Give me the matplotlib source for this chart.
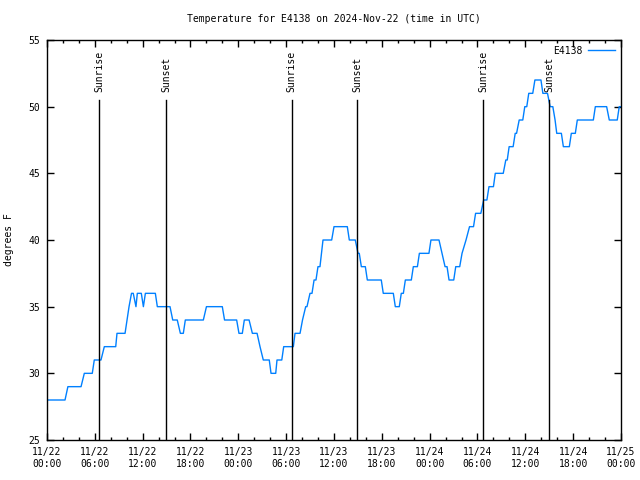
import pandas as pd
import matplotlib
matplotlib.use("Agg")
import matplotlib.pyplot as plt
import matplotlib.dates as mdates

# Temperature levels (deg F) with start / end of each level, hours after 11/22 00:00 UTC
level_temp = [28, 29, 30, 31, 32, 33, 34, 35, 36, 35, 36, 35, 36, 35, 34, 33, 34, 35, 34, 33,
              34, 33, 32, 31, 30, 31, 32, 33, 34, 35, 36, 37, 38, 39, 40, 41, 40, 39, 38, 37,
              36, 35, 36, 37, 38, 39, 40, 39, 38, 37, 38, 39, 40, 41, 42, 43, 44, 45, 46, 47,
              48, 49, 50, 51, 52, 51, 50, 49, 48, 47, 48, 49, 50, 49, 50]
level_start = [0.0, 2.62, 4.68, 5.93, 7.19, 8.78, 10.04, 10.29, 10.60, 11.16, 11.33, 12.09, 12.34,
               13.84, 15.77, 16.73, 17.35, 20.0, 22.27, 24.08, 24.75, 25.76, 26.72, 27.13, 28.1,
               28.85, 29.69, 31.11, 32.05, 32.45, 32.99, 33.5, 33.99, 34.43, 34.62, 36.0, 37.92,
               39.01, 39.43, 40.18, 42.18, 43.69, 44.44, 44.95, 45.95, 46.71, 48.16, 49.55, 49.93,
               50.43, 51.27, 52.06, 52.56, 53.0, 53.76, 54.77, 55.44, 56.23, 57.55, 57.97, 58.73,
               59.23, 59.93, 60.43, 61.2, 62.2, 63.11, 63.73, 63.94, 64.77, 65.77, 66.52, 68.78,
               70.53, 71.78]
level_end = [2.26, 4.27, 5.68, 6.77, 8.62, 9.79, 10.04, 10.29, 10.82, 11.16, 11.83, 12.09, 13.59,
             15.43, 16.34, 17.10, 19.61, 21.99, 23.79, 24.50, 25.35, 26.35, 26.72, 27.88, 28.69,
             29.45, 30.9, 31.74, 32.05, 32.61, 33.24, 33.74, 34.24, 34.43, 35.71, 37.67, 38.67,
             39.17, 39.93, 41.93, 43.44, 44.19, 44.7, 45.7, 46.46, 47.91, 49.17, 49.55, 50.18,
             51.02, 51.77, 52.06, 52.56, 53.5, 54.42, 55.18, 56.0, 57.23, 57.73, 58.47, 58.9,
             59.68, 60.18, 60.93, 61.96, 62.78, 63.45, 63.73, 64.52, 65.52, 66.27, 68.53, 70.2,
             71.53, 72.0]

sunrise_hours = [6.56, 30.69, 54.73]
sunset_hours = [14.93, 38.92, 63.0]

start = pd.Timestamp("2024-11-22 00:00")

hours = []
temps = []
for t, s, e in zip(level_temp, level_start, level_end):
    hours += [s, e]
    temps += [t, t]
times = start + pd.to_timedelta(hours, unit="h")

font = "DejaVu Sans Mono"
fs = 7

fig = plt.figure(figsize=(6.4, 4.8), dpi=100)
ax = fig.add_axes([47 / 640, 40 / 480, 574 / 640, 400 / 480])

ax.plot(times, temps, color="#0080ff", lw=1.0, label="E4138")

# sunrise / sunset markers
for h in sunrise_hours:
    x = start + pd.Timedelta(hours=h)
    ax.plot([x, x], [25, 50.5], color="black", lw=1.0)
    ax.text(x, 51.1, "Sunrise", rotation=90, ha="center", va="bottom",
            fontsize=fs, family=font)
for h in sunset_hours:
    x = start + pd.Timedelta(hours=h)
    ax.plot([x, x], [25, 50.5], color="black", lw=1.0)
    ax.text(x, 51.1, "Sunset", rotation=90, ha="center", va="bottom",
            fontsize=fs, family=font)

ax.set_xlim(start, start + pd.Timedelta(hours=72))
ax.set_ylim(25, 55)
ax.set_yticks([25, 30, 35, 40, 45, 50, 55])

ax.xaxis.set_major_locator(mdates.HourLocator(byhour=[0, 6, 12, 18]))
ax.xaxis.set_minor_locator(mdates.HourLocator(byhour=range(0, 24, 2)))
ax.xaxis.set_major_formatter(mdates.DateFormatter("%m/%d\n%H:%M"))

ax.tick_params(which="both", direction="in", top=True, right=True,
               labelsize=fs, width=1.0)
ax.tick_params(which="major", length=5, pad=5)
ax.tick_params(which="minor", length=2.5)
for lab in ax.get_xticklabels() + ax.get_yticklabels():
    lab.set_family(font)
for sp in ax.spines.values():
    sp.set_linewidth(1.0)

ax.set_title("Temperature for E4138 on 2024-Nov-22 (time in UTC)",
             fontsize=fs, family=font, pad=13)
ax.set_ylabel("degrees F", fontsize=fs, family=font)
ax.yaxis.set_label_coords(-0.057, 0.5)

ax.legend(loc="upper right", frameon=False, markerfirst=False,
          prop={"family": font, "size": fs}, handlelength=2.8,
          borderaxespad=0.2, handletextpad=0.6)

fig.savefig("out.png", dpi=100)
